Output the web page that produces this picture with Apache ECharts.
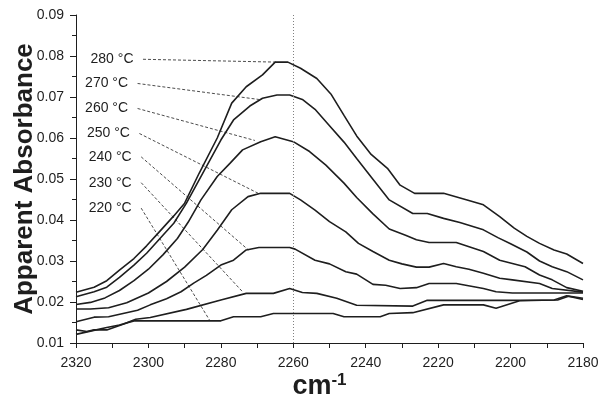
<!DOCTYPE html>
<html>
<head>
<meta charset="utf-8">
<script src="https://cdn.jsdelivr.net/npm/echarts@6/dist/echarts.min.js"></script>
<style>
  html, body { margin: 0; padding: 0; background: #fff; }
  #chart { width: 600px; height: 400px; }
</style>
</head>
<body>
<div id="chart"></div>
<script>
  // spectra: [wavenumber (cm-1), apparent absorbance]
  const s280 = [[2320, 0.0224], [2315, 0.0236], [2311.5, 0.0252], [2308, 0.0278], [2304, 0.0306], [2300.5, 0.0337], [2297, 0.0371], [2293, 0.0410], [2290, 0.0441], [2286, 0.0514], [2281, 0.0600], [2277, 0.0685], [2273, 0.0725], [2268.5, 0.0754], [2265, 0.0785], [2261.5, 0.0785], [2258, 0.0770], [2253.5, 0.0745], [2249.5, 0.0706], [2246, 0.0655], [2242.5, 0.0605], [2238.5, 0.0560], [2234, 0.0526], [2230.5, 0.0485], [2226.5, 0.0465], [2218.5, 0.0465], [2212, 0.0449], [2207.5, 0.0437], [2203, 0.0408], [2199, 0.0380], [2195.5, 0.0360], [2192, 0.0343], [2188, 0.0327], [2184.5, 0.0317], [2180, 0.0294]]
  const s270 = [[2320, 0.0213], [2315, 0.0225], [2311.5, 0.0236], [2308, 0.0260], [2304, 0.0290], [2300.5, 0.0319], [2297, 0.0353], [2293, 0.0392], [2289.5, 0.0441], [2284, 0.0530], [2280, 0.0595], [2276.5, 0.0644], [2272, 0.0678], [2268.5, 0.0697], [2264.5, 0.0705], [2261, 0.0705], [2257.5, 0.0694], [2254, 0.0670], [2250, 0.0630], [2246, 0.0590], [2242.5, 0.0550], [2238.5, 0.0505], [2233.5, 0.0449], [2227, 0.0416], [2223, 0.0416], [2218.5, 0.0404], [2214, 0.0394], [2207.5, 0.0376], [2203.5, 0.0357], [2200, 0.0342], [2195.5, 0.0322], [2192, 0.0300], [2188.5, 0.0286], [2184.5, 0.0274], [2180, 0.0254]]
  const s260 = [[2320, 0.0194], [2316, 0.0199], [2312, 0.0210], [2308, 0.0228], [2304, 0.0252], [2300, 0.0280], [2296, 0.0315], [2292, 0.0355], [2289, 0.0395], [2285.5, 0.0449], [2281, 0.0506], [2277.5, 0.0538], [2274, 0.0571], [2269, 0.0591], [2265, 0.0603], [2260, 0.0591], [2255.5, 0.0567], [2251, 0.0534], [2246, 0.0490], [2242.5, 0.0455], [2238, 0.0415], [2233.5, 0.0378], [2229, 0.0363], [2226, 0.0352], [2222.5, 0.0345], [2215, 0.0345], [2207.5, 0.0323], [2203, 0.0302], [2196, 0.0286], [2192, 0.0266], [2188.5, 0.0254], [2184.5, 0.0235], [2180, 0.0226]]
  const s250 = [[2320, 0.0183], [2316, 0.0183], [2311, 0.0186], [2306, 0.0198], [2300, 0.0222], [2295, 0.0250], [2290, 0.0285], [2285, 0.0328], [2281, 0.0375], [2277, 0.0425], [2272.5, 0.0457], [2269, 0.0465], [2261, 0.0465], [2258, 0.0449], [2254, 0.0424], [2250, 0.0396], [2245.5, 0.0371], [2242, 0.0343], [2238, 0.0323], [2233.5, 0.0302], [2230, 0.0293], [2226, 0.0285], [2222.5, 0.0285], [2218.5, 0.0294], [2215, 0.0286], [2211.5, 0.0280], [2207.5, 0.0270], [2203, 0.0258], [2199.5, 0.0254], [2192, 0.0245], [2188.5, 0.0233], [2180, 0.0224]]
  const s240 = [[2320, 0.0152], [2315, 0.0163], [2311, 0.0164], [2307, 0.0172], [2303, 0.0180], [2299.5, 0.0193], [2295, 0.0208], [2291, 0.0225], [2287.5, 0.0246], [2284, 0.0265], [2280, 0.0290], [2276.5, 0.0302], [2273, 0.0327], [2269.5, 0.0333], [2261, 0.0333], [2259.5, 0.0329], [2254, 0.0302], [2250, 0.0293], [2245.5, 0.0274], [2242.5, 0.0268], [2238, 0.0243], [2234.5, 0.0241], [2230.5, 0.0233], [2226, 0.0235], [2222.5, 0.0245], [2215, 0.0245], [2207.5, 0.0233], [2204, 0.0225], [2199.5, 0.0222], [2180, 0.0222]]
  const s230 = [[2320, 0.0132], [2317, 0.0128], [2315, 0.0132], [2311.5, 0.0132], [2307, 0.0146], [2303.5, 0.0158], [2299.5, 0.0162], [2289.5, 0.0182], [2280, 0.0205], [2273, 0.0221], [2265.5, 0.0221], [2261, 0.0233], [2257.5, 0.0223], [2253.5, 0.0221], [2248, 0.0209], [2242.5, 0.0192], [2227, 0.0190], [2223, 0.0204], [2201, 0.0204], [2187, 0.0205], [2184, 0.0214], [2180, 0.0206]]
  const s220 = [[2320, 0.0121], [2316, 0.0129], [2311.5, 0.0138], [2308, 0.0144], [2304, 0.0154], [2280, 0.0154], [2276.5, 0.0164], [2269, 0.0164], [2265.5, 0.0172], [2249, 0.0172], [2246, 0.0164], [2236, 0.0164], [2233.5, 0.0172], [2227, 0.0174], [2218.5, 0.0193], [2207.5, 0.0193], [2204, 0.0185], [2197.5, 0.0203], [2188, 0.0205], [2184.5, 0.0215], [2180, 0.0209]]

  const temps = ['280 °C', '270 °C', '260 °C', '250 °C', '240 °C', '230 °C', '220 °C']
  const spectra = [s280, s270, s260, s250, s240, s230, s220]
  // label anchors and leader targets, in data units
  const labelAt = [[2301.5, 0.0792], [2303, 0.0733], [2303, 0.0672], [2302.5, 0.0611], [2302, 0.0554], [2302, 0.0491], [2302, 0.0429]]
  const leaderTo = [[2264.2, 0.0785], [2269.5, 0.0694], [2270.6, 0.0594], [2269.2, 0.0463], [2272.4, 0.0327], [2273.8, 0.0223], [2283, 0.0154]]
  const xTicks = [2180, 2320, 20]
  const yTicks = [0.01, 0.09, 0.01]
  const peakLine = 2260

  const FONT = 'Liberation Sans, Arial, sans-serif'
  const INK = '#1e1e1e'

  let series = spectra.map((data, i) => {
    let s = {
      name: temps[i],
      type: 'line',
      data: data,
      showSymbol: false,
      silent: true,
      z: 3,
      lineStyle: {color: INK, width: 1.6}
    }
    if (i === 0) {
      s.markLine = {
        silent: true,
        symbol: 'none',
        label: {show: false},
        lineStyle: {color: '#808080', type: [1, 2], width: 1},
        data: [{xAxis: peakLine}]
      }
    }
    return s
  })

  temps.forEach((t, i) => {
    series.push({
      type: 'line',
      data: [
        {
          value: labelAt[i],
          label: {
            show: true,
            position: 'left',
            distance: 9,
            formatter: t,
            fontFamily: FONT,
            fontSize: 14,
            color: INK
          }
        },
        {value: leaderTo[i]}
      ],
      symbol: 'circle',
      symbolSize: 1,
      showSymbol: true,
      itemStyle: {color: 'rgba(0,0,0,0)'},
      labelLayout: {hideOverlap: false},
      silent: true,
      z: 2,
      lineStyle: {color: INK, width: 0.8, type: [3, 2]}
    })
  })

  let chart = echarts.init(document.getElementById('chart'))
  chart.setOption({
    animation: false,
    backgroundColor: '#fff',
    grid: {left: 76, right: 17, top: 15, bottom: 57, outerBoundsMode: 'none'},
    xAxis: {
      type: 'value',
      inverse: true,
      min: xTicks[0],
      max: xTicks[1],
      interval: xTicks[2],
      name: '{b|cm}{s|-1}',
      nameLocation: 'middle',
      nameGap: 29,
      nameMoveOverlap: false,
      nameTextStyle: {
        padding: [0, 20, 0, 0],
        rich: {
          b: {fontFamily: FONT, fontSize: 27, fontWeight: 'bold', color: INK, lineHeight: 30},
          s: {fontFamily: FONT, fontSize: 17, fontWeight: 'bold', color: INK, verticalAlign: 'top', lineHeight: 30}
        }
      },
      axisLine: {lineStyle: {color: INK, width: 1}},
      axisTick: {show: true, length: 5, lineStyle: {color: INK}},
      minorTick: {show: true, splitNumber: 2, length: 5, lineStyle: {color: INK}},
      splitLine: {show: false},
      axisLabel: {fontFamily: FONT, fontSize: 14, color: INK, margin: 13, formatter: v => String(v)}
    },
    yAxis: {
      type: 'value',
      min: yTicks[0],
      max: yTicks[1],
      interval: yTicks[2],
      name: 'Apparent Absorbance',
      nameLocation: 'middle',
      nameGap: 38,
      nameMoveOverlap: false,
      nameTextStyle: {fontFamily: FONT, fontSize: 26, fontWeight: 'bold', color: INK},
      axisLine: {show: true, lineStyle: {color: INK, width: 1}},
      axisTick: {show: true, length: 6, lineStyle: {color: INK}},
      minorTick: {show: true, splitNumber: 2, length: 4, lineStyle: {color: INK}},
      splitLine: {show: false},
      axisLabel: {
        fontFamily: FONT,
        fontSize: 14,
        color: INK,
        margin: 12,
        formatter: v => v.toFixed(2)
      }
    },
    series: series
  })
</script>
</body>
</html>
